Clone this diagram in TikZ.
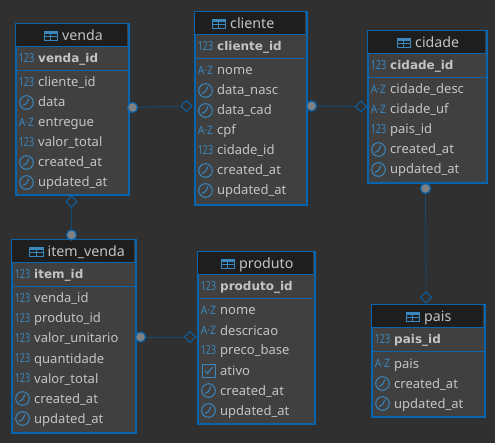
\documentclass[tikz,border=0pt]{standalone}
\usepackage{fontspec}
\setmainfont{Noto Sans}
\newfontfamily\pkfont{DejaVu Sans}
\usetikzlibrary{shapes.geometric}
\definecolor{bgc}{HTML}{303030}
\definecolor{tblc}{HTML}{404040}
\definecolor{headc}{HTML}{1E1E1E}
\definecolor{edgec}{HTML}{0764AE}
\definecolor{iconc}{HTML}{3A86BE}
\definecolor{textc}{HTML}{C4C4C4}
\definecolor{linkc}{HTML}{124A74}
\definecolor{dotc}{HTML}{808080}
\tikzset{
  tablebox/.style={draw=edgec,line width=2.2pt,fill=tblc,inner sep=0pt,anchor=north west},
  rowtext/.style={text=textc,font=\fontsize{13}{15}\selectfont,anchor=base west,inner sep=0pt},
  pktext/.style={text=textc,font=\pkfont\fontsize{12}{15}\selectfont\bfseries,anchor=base west,inner sep=0pt},
  titletext/.style={text=textc,font=\fontsize{14.2}{16}\selectfont,anchor=base west,inner sep=0pt},
  icontext/.style={text=iconc,font=\fontsize{12.5}{14}\selectfont,inner sep=0pt},
  iconline/.style={draw=iconc,line width=1pt},
  dotend/.style={circle,fill=dotc,draw=edgec,line width=1.2pt,minimum size=10pt,inner sep=0pt},
  diaend/.style={diamond,draw=edgec,line width=0.9pt,fill=bgc,minimum size=11.5pt,inner sep=0pt},
  linkline/.style={draw=linkc,line width=0.8pt}
}
% icons, centred on (#1,#2)
\newcommand{\iconn}[2]{\node[icontext] at (#1,#2) {\scalebox{0.72}[1]{123}};}
\newcommand{\icona}[2]{\node[icontext,font=\fontsize{11.5}{13}\selectfont] at (#1,#2) {\scalebox{0.9}[1]{A·Z}};}
\newcommand{\iconc}[2]{\draw[iconline] (#1,#2) circle (6.8pt);
  \draw[iconline] (#1+2.5,#2-4) -- (#1,#2+1) -- (#1-3.5,#2+3);}
\newcommand{\iconb}[2]{\draw[iconline] (#1-6.5,#2-6.5) rectangle (#1+6.5,#2+6.5);
  \draw[iconline] (#1-3.5,#2) -- (#1-1,#2+3) -- (#1+4,#2-3.5);}
% \tbl{id}{x0}{x1}{y0}{y1}{title x}{title}{pk}{rows}
\newcommand{\tbl}[9]{
  \node[tablebox,minimum width=#3pt-#2pt,minimum height=#5pt-#4pt] (#1) at (#2,#4) {};
  \fill[headc] (#2+1,#4+1) rectangle (#3-1,#4+23.5);
  \draw[edgec,line width=1.3pt] (#2,#4+23.5) -- (#3,#4+23.5);
  \draw[edgec,line width=1.3pt] (#2,#4+47.2) -- (#3,#4+47.2);
  \draw[iconc,line width=0.9pt] (#6-18,#4+8) rectangle (#6-4.5,#4+17.7);
  \fill[iconc] (#6-18,#4+8) rectangle (#6-4.5,#4+11);
  \draw[iconc,line width=0.8pt] (#6-18,#4+13.5) -- (#6-4.5,#4+13.5) (#6-11.2,#4+9) -- (#6-11.2,#4+17.7);
  \node[titletext] (#1-title) at (#6,#4+18) {#7};
  \iconn{#2+11.5}{#4+35}
  \node[pktext] (#1-pk) at (#2+23,#4+39.7) {#8};
  \foreach \k/\lbl [count=\i from 0] in {#9} {
    \csname icon\k\endcsname{#2+11.5}{#4+59.5+20*\i}
    \node[rowtext] (#1-r\i) at (#2+23,#4+64+20*\i) {\lbl};
  }
}
\begin{document}
\begin{tikzpicture}[x=1pt,y=-1pt]
\useasboundingbox (0,0) rectangle (495,443);
\fill[bgc] (0,0) rectangle (495,443);
\tbl{venda}{15}{127.5}{23}{194}{62}{venda}{venda\_id}{n/cliente\_id,c/data,a/entregue,n/valor\_total,c/created\_at,c/updated\_at}
\tbl{cliente}{194}{306}{11}{204}{230}{cliente}{cliente\_id}{a/nome,c/data\_nasc,c/data\_cad,a/cpf,n/cidade\_id,c/created\_at,c/updated\_at}
\tbl{cidade}{367}{486}{30}{182}{415}{cidade}{cidade\_id}{a/cidade\_desc,a/cidade\_uf,n/pais\_id,c/created\_at,c/updated\_at}
\tbl{itemvenda}{11}{135}{239}{432}{47.5}{item\_venda}{item\_id}{n/venda\_id,n/produto\_id,n/valor\_unitario,n/quantidade,n/valor\_total,c/created\_at,c/updated\_at}
\tbl{produto}{197}{314}{251}{423}{239}{produto}{produto\_id}{a/nome,a/descricao,n/preco\_base,b/ativo,c/created\_at,c/updated\_at}
\tbl{pais}{371}{484}{304}{416}{424}{pais}{pais\_id}{a/pais,c/created\_at,c/updated\_at}
% connectors
\node[diaend] (d1) at (186.5,106) {};
\node[dotend] (c1) at (132.5,107.5) {};
\draw[linkline] (c1) -- (d1);
\node[diaend] (d2) at (361,106.5) {};
\node[dotend] (c2) at (311.5,106) {};
\draw[linkline] (c2) -- (d2);
\node[diaend] (d3) at (71.5,201.5) {};
\node[dotend] (c3) at (71.5,235) {};
\draw[linkline] (c3) -- (d3);
\node[diaend] (d4) at (426,297.5) {};
\node[dotend] (c4) at (425.5,188.5) {};
\draw[linkline] (c4) -- (d4);
\node[diaend] (d5) at (190,337) {};
\node[dotend] (c5) at (140.5,337) {};
\draw[linkline] (c5) -- (d5);
\end{tikzpicture}
\end{document}
